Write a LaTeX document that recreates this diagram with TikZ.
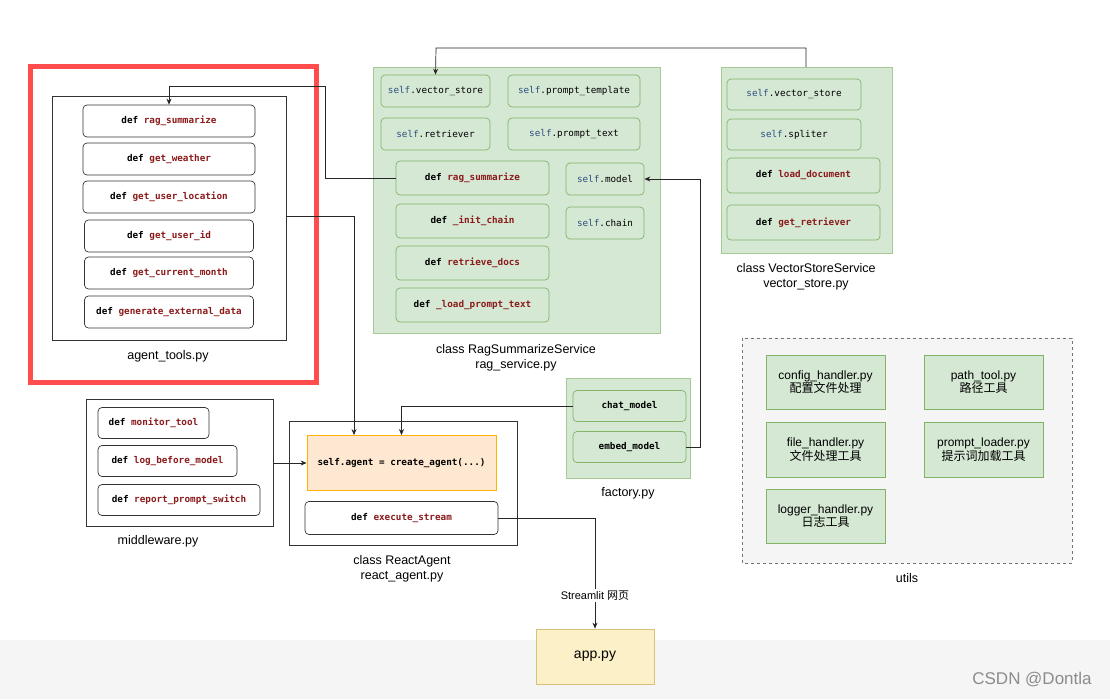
\documentclass[tikz,border=0pt]{standalone}
\usepackage{fontspec}
\setmainfont{Liberation Sans}
\newfontfamily\cjk{Noto Sans CJK SC}
\newfontfamily\code{DejaVu Sans Mono}
\usetikzlibrary{arrows.meta}
\definecolor{gfill}{HTML}{D5E8D4}
\definecolor{gline}{HTML}{82B366}
\definecolor{dred}{HTML}{8B1A1A}
\definecolor{sblue}{HTML}{2F4F7F}
\definecolor{appfill}{HTML}{FBF0C8}
\definecolor{appline}{HTML}{D6C27A}
\newcommand{\df}[1]{{\code\bfseries def \textcolor{dred}{#1}}}
\newcommand{\slf}[1]{{\code\textcolor{sblue}{self}.#1}}
\tikzset{
  box/.style={draw=black!80,fill=white,rounded corners=4pt,line width=0.7pt,font=\fontsize{9.3}{11}\selectfont},
  gbox/.style={draw=gline,fill=gfill,rounded corners=4pt,line width=0.7pt,font=\fontsize{9.3}{11}\selectfont},
  frame/.style={draw=black!80,line width=0.8pt},
  gframe/.style={draw=gline!70,fill=gfill,line width=1pt},
  ubox/.style={draw=gline,fill=gfill,line width=0.8pt,align=center,font=\fontsize{12}{13.5}\selectfont},
  lbl/.style={align=center,font=\fontsize{12.5}{15.5}\selectfont},
  conn/.style={draw=black!85,line width=0.7pt},
  arr/.style={conn,-{Stealth[length=6pt,width=5pt]}}
}
\begin{document}
\begin{tikzpicture}[x=1pt,y=-1pt]
\useasboundingbox (0,0) rectangle (1110,699);
\fill[white] (0,0) rectangle (1110,699);
\fill[black!4] (0,640) rectangle (1110,699);
% agent tools
\draw[frame] (52,96) rectangle (286,340);
\coordinate (atE) at (286,216);
\node[lbl] (atl) at (168,356) {agent\_tools.py};
\node[box,minimum width=172,minimum height=32] (t1) at (169,121) {\df{rag\_summarize}};
\node[box,minimum width=172,minimum height=32] (t2) at (169,159) {\df{get\_weather}};
\node[box,minimum width=172,minimum height=32] (t3) at (169,197) {\df{get\_user\_location}};
\node[box,minimum width=169,minimum height=32] (t4) at (169,236) {\df{get\_user\_id}};
\node[box,minimum width=169,minimum height=32] (t5) at (169,273) {\df{get\_current\_month}};
\node[box,minimum width=169,minimum height=32,inner xsep=2pt] (t6) at (169,312) {\df{generate\_external\_data}};
\draw[draw=red!70!white,line width=5pt] (30,66) rectangle (316,382);
% rag service
\draw[gframe] (373,67) rectangle (660,333);
\node[lbl] (rl) at (516,358) {class RagSummarizeService\\rag\_service.py};
\node[gbox,minimum width=109,minimum height=32] (r1) at (435.5,91) {\slf{vector\_store}};
\node[gbox,minimum width=132,minimum height=32] (r2) at (574,91) {\slf{prompt\_template}};
\node[gbox,minimum width=109,minimum height=32] (r3) at (435.5,134) {\slf{retriever}};
\node[gbox,minimum width=132,minimum height=32] (r4) at (574,134) {\slf{prompt\_text}};
\node[gbox,minimum width=153,minimum height=34] (r5) at (472.5,178) {\df{rag\_summarize}};
\node[gbox,minimum width=153,minimum height=34] (r6) at (472.5,221) {\df{\_init\_chain}};
\node[gbox,minimum width=153,minimum height=34] (r7) at (472.5,263) {\df{retrieve\_docs}};
\node[gbox,minimum width=153,minimum height=34] (r8) at (472.5,305) {\df{\_load\_prompt\_text}};
\node[gbox,minimum width=78,minimum height=32] (r9) at (605,179) {\slf{model}};
\node[gbox,minimum width=78,minimum height=32] (r10) at (605,223) {\slf{chain}};
% vector store
\draw[gframe] (721,67) rectangle (892,253);
\coordinate (vsT) at (806,67);
\node[lbl] (vl) at (806,277) {class VectorStoreService\\vector\_store.py};
\node[gbox,minimum width=134,minimum height=31] (v1) at (794,94.5) {\slf{vector\_store}};
\node[gbox,minimum width=134,minimum height=31] (v2) at (794,134.5) {\slf{spliter}};
\node[gbox,minimum width=153,minimum height=35] (v3) at (803.5,175.5) {\df{load\_document}};
\node[gbox,minimum width=153,minimum height=35] (v4) at (803.5,222.5) {\df{get\_retriever}};
% factory
\draw[gframe] (566,378) rectangle (690,478);
\node[lbl] (fl) at (628,493) {factory.py};
\node[gbox,minimum width=113,minimum height=31] (f1) at (629.5,406) {{\code\bfseries chat\_model}};
\node[gbox,minimum width=113,minimum height=31] (f2) at (629.5,447) {{\code\bfseries embed\_model}};
% middleware
\draw[frame] (86,399) rectangle (273,526);
\coordinate (mwE) at (273,463);
\node[lbl] (ml) at (158,541) {middleware.py};
\node[box,minimum width=111,minimum height=31] (m1) at (153.5,423) {\df{monitor\_tool}};
\node[box,minimum width=139,minimum height=31] (m2) at (167.5,461) {\df{log\_before\_model}};
\node[box,minimum width=162,minimum height=31,inner xsep=2pt] (m3) at (179,500) {\df{report\_prompt\_switch}};
% react agent
\draw[frame] (289,421) rectangle (517,545);
\node[lbl] (al) at (402,569) {class ReactAgent\\react\_agent.py};
\node[draw=orange!60!yellow,fill=orange!18,line width=0.8pt,minimum width=189,minimum height=55,inner xsep=1pt,font=\fontsize{9.3}{11}\selectfont] (ca) at (401.5,463) {{\code\bfseries self.agent = create\_agent(...)}};
\node[box,minimum width=193,minimum height=33] (es) at (401.5,518) {\df{execute\_stream}};
% app
\node[draw=appline,fill=appfill,line width=0.8pt,minimum width=118,minimum height=55,font=\fontsize{14}{16}\selectfont] (app) at (595,656.5) {app.py};
% utils
\draw[draw=black!55,fill=black!4,dashed,line width=0.7pt] (742,338) rectangle (1072,563);
\node[lbl] (ul) at (907,578) {utils};
\node[ubox,minimum width=119,minimum height=54] (u1) at (825.5,382) {config\_handler.py\\{\cjk 配置文件处理}};
\node[ubox,minimum width=119,minimum height=54] (u2) at (983.5,382) {path\_tool.py\\{\cjk 路径工具}};
\node[ubox,minimum width=119,minimum height=55] (u3) at (825.5,449.5) {file\_handler.py\\{\cjk 文件处理工具}};
\node[ubox,minimum width=119,minimum height=55] (u4) at (983.5,449.5) {prompt\_loader.py\\{\cjk 提示词加载工具}};
\node[ubox,minimum width=119,minimum height=54] (u5) at (825.5,516) {logger\_handler.py\\{\cjk 日志工具}};
% connectors
\draw[arr] (vsT) |- (436,48) -- (r1.north);
\draw[arr] (r5.west) -| (325,86) -| (t1.north);
\draw[arr] (atE) -| (ca.north -| 354,0);
\draw[arr] (f2.east) -| (700,179) -- (r9.east);
\draw[arr] (f1.west) -| (ca.north);
\draw[arr] (mwE) -- (ca.west);
\draw[arr] (es.east) -| (app.north) node[pos=0.85,fill=white,inner sep=2pt,font=\fontsize{11}{13}\selectfont] {Streamlit {\cjk 网页}};
\node[text=black!45,font=\fontsize{17}{20}\selectfont] (wm) at (1032,680) {CSDN @Dontla};
\end{tikzpicture}
\end{document}
